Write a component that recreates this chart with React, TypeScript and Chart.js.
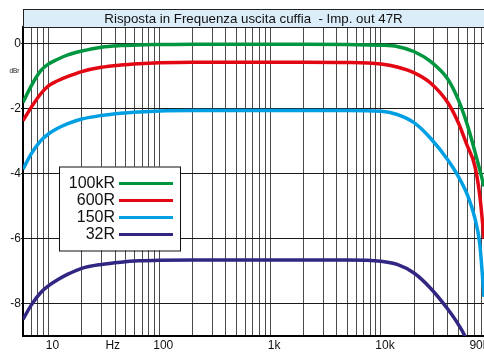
import React, { useEffect, useRef } from 'react';
import { Chart, registerables } from 'chart.js';

Chart.register(...registerables);

const FONT = '"Liberation Sans", Arial, Helvetica, sans-serif';

const titleText = 'Risposta in Frequenza uscita cuffia  - Imp. out 47R';
const unitLabel = 'dBr';

const freqs = [5.9, 7, 8.5, 10, 12, 15, 20, 30, 45, 65, 100, 200, 500, 1000, 2000, 5000, 10000, 14000, 20000, 28000, 40000, 50000, 60000, 70000, 78000, 85000];

const r100k = [-1.82, -1.31, -0.85, -0.64, -0.5, -0.36, -0.24, -0.12, -0.07, -0.05, -0.04, -0.03, -0.03, -0.03, -0.03, -0.04, -0.06, -0.1, -0.26, -0.56, -1.1, -1.75, -2.5, -3.3, -3.9, -4.4];
const r600 = [-2.38, -1.97, -1.56, -1.31, -1.16, -1.02, -0.87, -0.74, -0.67, -0.63, -0.6, -0.58, -0.58, -0.58, -0.58, -0.59, -0.64, -0.73, -0.91, -1.22, -1.82, -2.45, -3.15, -3.75, -4.7, -6.0];
const r150 = [-3.87, -3.4, -3.0, -2.79, -2.62, -2.47, -2.33, -2.22, -2.15, -2.11, -2.08, -2.07, -2.07, -2.07, -2.07, -2.07, -2.09, -2.19, -2.45, -2.92, -3.58, -4.1, -4.65, -5.35, -6.2, -7.8];
const r32 = [-8.49, -8.05, -7.67, -7.46, -7.28, -7.1, -6.92, -6.8, -6.73, -6.69, -6.67, -6.66, -6.66, -6.66, -6.66, -6.66, -6.7, -6.8, -7.07, -7.53, -8.17, -8.65, -9.15, -9.8, -10.4, -11];

const seriesLabels = ['100kR', '600R', '150R', '32R'];
const seriesColors = ['#009640', '#e30613', '#009fe3', '#312783'];
const seriesValues = [r100k, r600, r150, r32];

const yTicks = [-8, -6, -4, -2, 0];
const xGridValues = [6, 7, 8, 9, 10, 20, 30, 40, 50, 60, 70, 80, 90, 100, 200, 300, 400, 500, 600, 700, 800, 900, 1000, 2000, 3000, 4000, 5000, 6000, 7000, 8000, 9000, 10000, 20000, 30000, 40000, 50000, 60000, 70000, 80000, 90000];
const xLabelValues = [10, 35, 100, 1000, 10000, 90000];
const xLabelTexts = ['10', 'Hz', '100', '1k', '10k', '90k'];

const X_MIN = 5.9;
const X_MAX = 85000;
const Y_MIN = -9;
const Y_MAX = 0.5;

const decorPlugin = {
  id: 'decor',
  beforeDraw(chart: any) {
    const ctx = chart.ctx;
    ctx.save();
    ctx.fillStyle = '#ffffff';
    ctx.fillRect(0, 0, chart.width, chart.height);
    ctx.restore();
  },
  afterDraw(chart: any) {
    const ctx = chart.ctx;
    const area = chart.chartArea;
    const xs = chart.scales.x;
    ctx.save();
    // title band
    ctx.fillStyle = '#dbedf9';
    ctx.fillRect(area.left, 9, area.right - area.left, area.top - 9);
    ctx.strokeStyle = '#222';
    ctx.lineWidth = 1;
    ctx.strokeRect(area.left + 0.5, 9.5, area.right - area.left + 2, area.top - 9);
    ctx.fillStyle = '#111';
    ctx.font = `13.3px ${FONT}`;
    ctx.textAlign = 'center';
    ctx.textBaseline = 'middle';
    ctx.fillText(titleText, (area.left + area.right) / 2, (9 + area.top) / 2 + 1);

    // x labels
    ctx.font = `12px ${FONT}`;
    ctx.textBaseline = 'middle';
    xLabelValues.forEach((v, i) => {
      const px = xs.getPixelForValue(v);
      const last = i === xLabelValues.length - 1;
      ctx.textAlign = last ? 'right' : 'center';
      ctx.fillText(xLabelTexts[i], px + (last ? 2 : 4), area.bottom + 9.5);
    });

    // unit label
    ctx.save();
    ctx.font = `8px ${FONT}`;
    ctx.textAlign = 'center';
    ctx.textBaseline = 'middle';
    ctx.translate(14.5, 71);
    ctx.scale(0.8, 1);
    ctx.fillText(unitLabel, 0, 0);
    ctx.restore();

    // legend
    const bx = 59, by = 166.5, bw = 121, bh = 84;
    ctx.fillStyle = '#ffffff';
    ctx.fillRect(bx, by, bw, bh);
    ctx.strokeStyle = '#111';
    ctx.lineWidth = 1;
    ctx.strokeRect(bx + 0.5, by + 0.5, bw, bh);
    ctx.font = `16px ${FONT}`;
    ctx.textAlign = 'right';
    ctx.textBaseline = 'middle';
    chart.data.datasets.forEach((ds: any, i: number) => {
      const yy = by + 17 + i * 17;
      ctx.fillStyle = '#111';
      ctx.fillText(ds.label, bx + 56, yy);
      ctx.strokeStyle = ds.borderColor;
      ctx.lineWidth = 3;
      ctx.beginPath();
      ctx.moveTo(bx + 60, yy);
      ctx.lineTo(bx + 114, yy);
      ctx.stroke();
    });
    ctx.restore();
  },
};

export default function App() {
  const ref = useRef<HTMLCanvasElement>(null);
  useEffect(() => {
    document.body.style.margin = '0';
    const datasets = seriesValues.map((vals, i) => ({
      label: seriesLabels[i],
      data: freqs.map((f, j) => ({ x: f, y: vals[j] })),
      borderColor: seriesColors[i],
      backgroundColor: seriesColors[i],
      borderWidth: 3.5,
      pointRadius: 0,
      fill: false,
      cubicInterpolationMode: 'monotone' as const,
      clip: 0,
    }));
    const chart = new Chart(ref.current as HTMLCanvasElement, {
      type: 'line',
      data: { datasets },
      options: {
        animation: false,
        responsive: false,
        devicePixelRatio: 1,
        layout: { padding: { top: 27, left: 0, right: 0, bottom: 0 } },
        plugins: {
          legend: { display: false },
          tooltip: { enabled: false },
          title: { display: false },
        },
        scales: {
          x: {
            type: 'logarithmic',
            min: X_MIN,
            max: X_MAX,
            afterBuildTicks: (s: any) => {
              s.ticks = xGridValues.filter((v) => v >= X_MIN && v <= X_MAX).map((v) => ({ value: v }));
            },
            afterFit: (s: any) => {
              s.height = 17;
            },
            ticks: { display: false },
            grid: { color: '#4a4a4a', lineWidth: 1, drawTicks: false },
            border: { color: '#000', width: 2 },
          },
          y: {
            type: 'linear',
            min: Y_MIN,
            max: Y_MAX,
            afterBuildTicks: (s: any) => {
              s.ticks = yTicks.map((v) => ({ value: v }));
            },
            afterFit: (s: any) => {
              s.width = 23;
            },
            ticks: {
              color: '#111',
              padding: 0,
              font: { size: 12, family: FONT },
              callback: (v: any) => String(v),
            },
            grid: { color: '#1a1a1a', lineWidth: 1, tickLength: 2 },
            border: { color: '#000', width: 2 },
          },
        },
      },
      plugins: [decorPlugin],
    });
    return () => chart.destroy();
  }, []);
  return (
    <div style={{ width: 484, height: 353 }}>
      <canvas ref={ref} width={484} height={353} style={{ display: 'block' }} />
    </div>
  );
}
